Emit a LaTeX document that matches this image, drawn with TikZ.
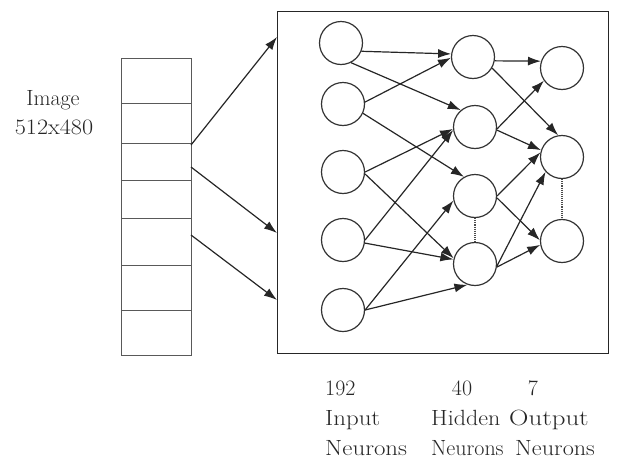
\documentclass[tikz,border=0pt]{standalone}
\usetikzlibrary{arrows.meta}
\begin{document}
\begin{tikzpicture}[x=1pt,y=-1pt,
  neuron/.style={circle,draw=black!80,line width=1.2pt,minimum size=43pt,inner sep=0pt},
  cell/.style={draw=black!65,line width=1.1pt,minimum width=70pt,inner sep=0pt,anchor=north west},
  arr/.style={draw=black!85,line width=1.2pt,-{Latex[length=13pt,width=9pt]}},
  lbl/.style={text=black!85,font=\fontsize{22}{26}\selectfont,inner sep=0pt},
  dotline/.style={draw=black!70,line width=1.1pt,densely dotted}]
\useasboundingbox (0,0) rectangle (625,464);
% image strip
\node[cell,minimum height=45pt] (c1) at (121,58) {};
\node[cell,minimum height=40pt] (c2) at (121,103) {};
\node[cell,minimum height=37pt] (c3) at (121,143) {};
\node[cell,minimum height=38pt] (c4) at (121,180) {};
\node[cell,minimum height=47pt] (c5) at (121,218) {};
\node[cell,minimum height=45pt] (c6) at (121,265) {};
\node[cell,minimum height=45pt] (c7) at (121,310) {};
\node[lbl,anchor=base] (img) at (53,105) {Image};
\node[lbl,anchor=base,xscale=1.1] (size) at (54,134) {512x480};
% network box
\node[draw=black!85,line width=1.3pt,minimum width=331pt,minimum height=342pt,inner sep=0pt,anchor=north west] (net) at (277,11) {};
\coordinate (t1) at (277,37);
\coordinate (t2) at (277,233);
\coordinate (t3) at (277,300);
\coordinate (s1) at (191,145);
\coordinate (s2) at (191,167);
\coordinate (s3) at (191,235);
\draw[arr] (s1) -- (t1);
\draw[arr] (s2) -- (t2);
\draw[arr] (s3) -- (t3);
% neurons
\node[neuron] (I1) at (341,43) {};
\node[neuron] (I2) at (343,104) {};
\node[neuron] (I3) at (343,172) {};
\node[neuron] (I4) at (343,240) {};
\node[neuron] (I5) at (343,310) {};
\node[neuron] (H1) at (473,57) {};
\node[neuron] (H2) at (475,127) {};
\node[neuron] (H3) at (475,196) {};
\node[neuron] (H4) at (475,264) {};
\node[neuron] (O1) at (562,68) {};
\node[neuron] (O2) at (562,157) {};
\node[neuron] (O3) at (562,241) {};
% input -> hidden
\draw[arr] (I1.-22) -- (H1.172);
\draw[arr] (I1.-63) -- (H2.130);
\draw[arr] (I2.5) -- (H1.182);
\draw[arr] (I2.-25) -- (H3.120);
\draw[arr] (I3.east) -- (H2.185);
\draw[arr] (I3.-5) -- (H4.165);
\draw[arr] (I4.east) -- (H2.188);
\draw[arr] (I4.-8) -- (H4.168);
\draw[arr] (I5.east) -- (H3.192);
\draw[arr] (I5.east) -- (H4.250);
% hidden -> output
\draw[arr] (H1.-10) -- (O1.162);
\draw[arr] (H1.-30) -- (O2.100);
\draw[arr] (H2.-5) -- (O1.215);
\draw[arr] (H2.-8) -- (O2.162);
\draw[arr] (H3.east) -- (O2.168);
\draw[arr] (H3.-5) -- (O3.178);
\draw[arr] (H4.-5) -- (O2.222);
\draw[arr] (H4.-8) -- (O3.190);
% dotted
\draw[dotline] (H3.south) -- (H4.north);
\draw[dotline] (O2.south) -- (O3.north);
% labels
\node[lbl,anchor=base west] (n1) at (325,395) {192};
\node[lbl,anchor=base] (n2) at (462,395) {40};
\node[lbl,anchor=base] (n3) at (533,395) {7};
\node[lbl,anchor=base west,xscale=1.13] (l1) at (325,425) {Input};
\node[lbl,anchor=base west,xscale=1.09] (l2) at (431,425) {Hidden};
\node[lbl,anchor=base west,xscale=1.22] (l3) at (509,425) {Output};
\node[lbl,anchor=base west,xscale=1.13] (m1) at (325,455) {Neurons};
\node[lbl,anchor=base west,xscale=1.0] (m2) at (431,455) {Neurons};
\node[lbl,anchor=base west,xscale=1.1] (m3) at (515,455) {Neurons};
\end{tikzpicture}
\end{document}
